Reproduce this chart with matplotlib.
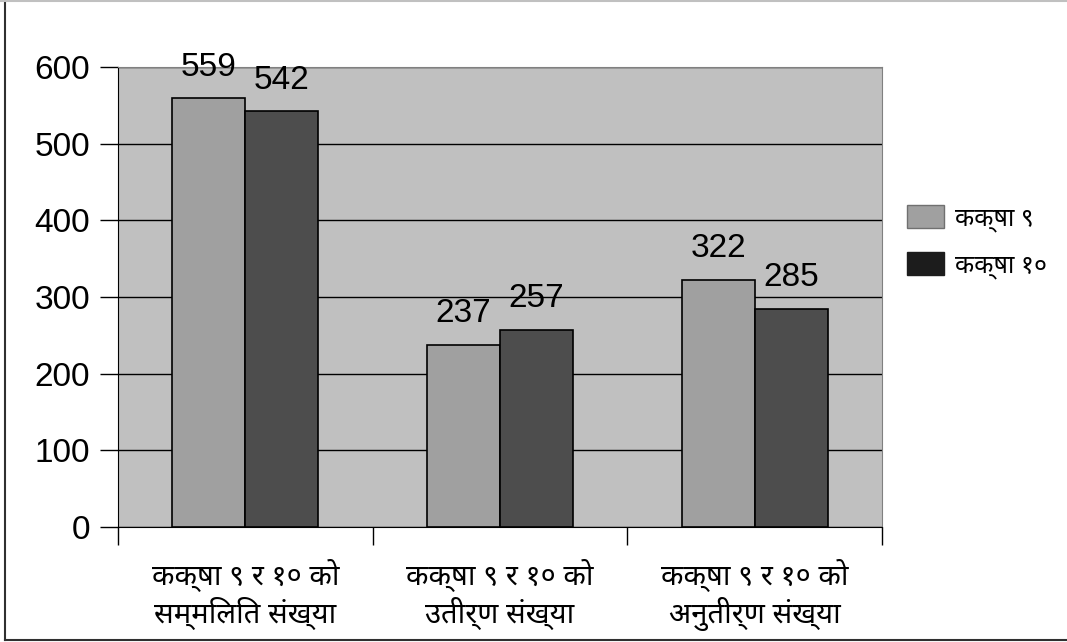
import glob
import matplotlib
matplotlib.use("Agg")
import matplotlib.pyplot as plt
import matplotlib.font_manager as fm
from matplotlib.patches import Patch
from matplotlib.lines import Line2D
import numpy as np

# devanagari font (google-fonts folder in the sandbox)
for p in glob.glob('/usr/share/fonts/truetype/google-fonts/NotoSansDevanagari-Regular.ttf'):
    fm.fontManager.addfont(p)
DEVA = ['Noto Sans Devanagari', 'DejaVu Sans']

categories = ['कक्षा ९ र १० को\nसम्मिलित संख्या',
              'कक्षा ९ र १० को\nउतीर्ण संख्या',
              'कक्षा ९ र १० को\nअनुतीर्ण संख्या']
series_names = ['कक्षा ९', 'कक्षा १०']
class9 = [559, 237, 322]
class10 = [542, 257, 285]
yticks = [0, 100, 200, 300, 400, 500, 600]

plt.rcParams['font.family'] = ['Liberation Sans', 'DejaVu Sans']

fig = plt.figure(figsize=(10.67, 6.42), dpi=100)
ax = fig.add_axes([0.1106, 0.1791, 0.7160, 0.7165])
ax.set_facecolor('#c0c0c0')

x = np.arange(len(categories))
w = 0.287
b1 = ax.bar(x - w/2, class9, w, color='#a0a0a0', edgecolor='black', linewidth=1.2, zorder=3)
b2 = ax.bar(x + w/2, class10, w, color='#4d4d4d', edgecolor='black', linewidth=1.2, zorder=3)

# value labels above the bars
for bars, vals in ((b1, class9), (b2, class10)):
    for r, v in zip(bars, vals):
        ax.annotate(str(v), (r.get_x() + r.get_width()/2, v), xytext=(0, 16.5),
                    textcoords='offset points', ha='center', va='baseline',
                    fontsize=24, color='black', zorder=4, annotation_clip=False)

ax.set_xlim(-0.5, 2.5)
ax.set_ylim(0, 600)
ax.set_yticks(yticks)
ax.set_yticklabels([str(t) for t in yticks], fontsize=24)
ax.yaxis.grid(True, color='black', linewidth=1)
ax.set_axisbelow(True)
ax.tick_params(axis='y', length=13, width=1, direction='out', pad=7)

ax.set_xticks(x)
ax.set_xticklabels(categories, family=DEVA, fontsize=21, linespacing=1.2)
ax.set_xticks([-0.5, 0.5, 1.5, 2.5], minor=True)
ax.tick_params(axis='x', which='major', length=0, pad=23)
ax.tick_params(axis='x', which='minor', length=13, width=1, direction='out')

ax.spines['left'].set_color('black')
ax.spines['bottom'].set_color('black')
ax.spines['top'].set_color('#808080')
ax.spines['right'].set_color('#808080')

handles = [Patch(facecolor='#a0a0a0', edgecolor='#707070', label=series_names[0]),
           Patch(facecolor='#1c1c1c', edgecolor='#1c1c1c', label=series_names[1])]
fig.legend(handles=handles, loc='upper left', bbox_to_anchor=(0.838, 0.700),
           frameon=False, borderpad=0, prop={'family': DEVA, 'size': 18},
           handlelength=1.5, handleheight=1.05, handletextpad=0.45, labelspacing=0.8)

# outer chart border (left / bottom dark, top light)
fig.add_artist(Line2D([0.005, 0.005], [0.003, 1.0], transform=fig.transFigure, color='#303030', lw=1.5))
fig.add_artist(Line2D([0.005, 1.0], [0.003, 0.003], transform=fig.transFigure, color='#303030', lw=1.5))
fig.add_artist(Line2D([0.0, 1.0], [0.999, 0.999], transform=fig.transFigure, color='#c0c0c0', lw=1.5))

fig.savefig('out.png', dpi=100)
